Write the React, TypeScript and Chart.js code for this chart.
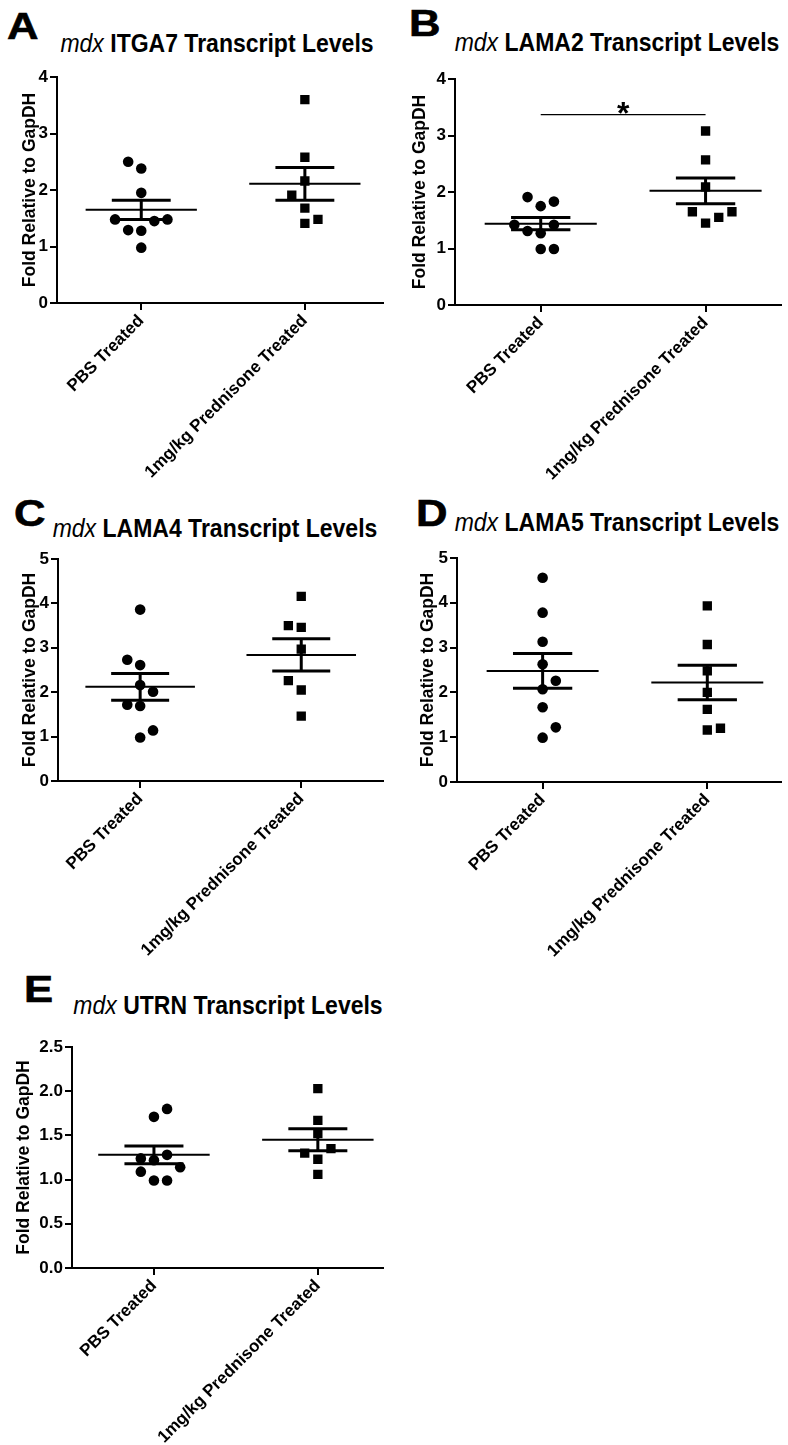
import React, { useEffect, useRef } from "react";
import { Chart, registerables } from "chart.js";

Chart.register(...registerables);

const FONT = "'Liberation Sans', Arial, Helvetica, sans-serif";

// ---------- data ----------
const categories = ["PBS Treated", "1mg/kg Prednisone Treated"];
const panelLetters = ["A", "B", "C", "D", "E"];
const genes = ["ITGA7", "LAMA2", "LAMA4", "LAMA5", "UTRN"];
const yAxisTitle = "Fold Relative to GapDH";
const yMaxes = [4, 4, 5, 5, 2.5];
const ySteps = [1, 1, 1, 1, 0.5];

// A: ITGA7
const pbsA = [2.5, 2.38, 1.95, 1.48, 1.45, 1.48, 1.29, 1.28, 0.98];
const pbsJitterA = [-1, 0, 0, -2, 1, 2, -1, 0, 0];
const predA = [3.6, 2.58, 2.16, 1.91, 1.68, 1.41, 1.48];
const predJitterA = [0, 0, 0, -1, 0, 0, 1];
const meanA = [1.65, 2.11];
const semA = [0.17, 0.29];

// B: LAMA2
const pbsB = [1.91, 1.75, 1.83, 1.42, 1.31, 1.27, 1.42, 0.99, 0.99];
const pbsJitterB = [-1, 0, 1, -2, -1, 0, 1, 0, 1];
const predB = [3.08, 2.57, 2.09, 1.65, 1.45, 1.55, 1.65];
const predJitterB = [0, 0, 0, -1, 0, 1, 2];
const meanB = [1.44, 2.02];
const semB = [0.11, 0.23];
const sigLevelB = 3.37;
const sigLabelB = "*";

// C: LAMA4
const pbsC = [3.86, 2.73, 2.61, 2.16, 2.01, 1.72, 1.69, 1.14, 0.98];
const pbsJitterC = [0, -1, 0, 0, 1, -1, 0, 1, 0];
const predC = [4.16, 3.5, 3.46, 2.97, 2.26, 2.05, 1.46];
const predJitterC = [0, -1, 0, 0, -1, 0, 0];
const meanC = [2.12, 2.84];
const semC = [0.3, 0.365];

// D: LAMA5
const pbsD = [4.56, 3.78, 3.13, 2.63, 2.26, 2.07, 1.67, 1.22, 0.99];
const pbsJitterD = [0, 0, 0, 0, 1, 0, 0, 1, 0];
const predD = [3.93, 3.07, 2.48, 2.0, 1.62, 1.16, 1.2];
const predJitterD = [0, 0, 0, 0, 0, 0, 1];
const meanD = [2.48, 2.22];
const semD = [0.39, 0.385];

// E: UTRN
const pbsE = [1.8, 1.71, 1.24, 1.22, 1.28, 1.14, 1.09, 0.99, 0.99];
const pbsJitterE = [1, 0, -1, 0, 1, 2, -1, 0, 1];
const predE = [2.03, 1.67, 1.52, 1.3, 1.35, 1.23, 1.06];
const predJitterE = [0, 0, 0, -1, 1, 0, 0];
const meanE = [1.28, 1.45];
const semE = [0.1, 0.125];

const pbsAll = [pbsA, pbsB, pbsC, pbsD, pbsE];
const pbsJitAll = [pbsJitterA, pbsJitterB, pbsJitterC, pbsJitterD, pbsJitterE];
const predAll = [predA, predB, predC, predD, predE];
const predJitAll = [predJitterA, predJitterB, predJitterC, predJitterD, predJitterE];
const meanAll = [meanA, meanB, meanC, meanD, meanE];
const semAll = [semA, semB, semC, semD, semE];

// ---------- layout (positions / sizes) ----------
type Layout = {
  left: number; top: number; width: number; height: number;
  padTop: number; yWidth: number; xHeight: number;
  xMin: number; xMax: number; titlePad: number;
  letterLeft: number; letterTop: number;
  titleCenter: number; titleTop: number;
};

const layouts: Layout[] = [
  { left: 0, top: 60, width: 390, height: 420, padTop: 17, yWidth: 57, xHeight: 177, xMin: 0.485, xMax: 2.48, titlePad: 20, letterLeft: 7, letterTop: 8, titleCenter: 217, titleTop: 32 },
  { left: 390, top: 60, width: 398, height: 420, padTop: 19, yWidth: 65, xHeight: 175, xMin: 0.48, xMax: 2.46, titlePad: 20, letterLeft: 409, letterTop: 5, titleCenter: 617, titleTop: 31 },
  { left: 0, top: 540, width: 390, height: 420, padTop: 19, yWidth: 58, xHeight: 179, xMin: 0.49, xMax: 2.51, titlePad: 20, letterLeft: 14, letterTop: 495, titleCenter: 215, titleTop: 517 },
  { left: 390, top: 540, width: 398, height: 420, padTop: 18, yWidth: 67, xHeight: 178, xMin: 0.48, xMax: 2.45, titlePad: 28, letterLeft: 416, letterTop: 495, titleCenter: 617, titleTop: 511 },
  { left: 0, top: 1030, width: 390, height: 415, padTop: 17, yWidth: 72, xHeight: 177, xMin: 0.5, xMax: 2.4, titlePad: 14, letterLeft: 24, letterTop: 971, titleCenter: 228, titleTop: 994 },
];

const JIT = 0.08;
const MEAN_HALF = 0.34;
const CAP_HALF = 0.18;

function groupLines(cx: number, mean: number, sem: number) {
  const base = { type: "line" as const, pointRadius: 0, borderColor: "#000", showLine: true, fill: false, tension: 0 };
  return [
    { ...base, borderWidth: 2, data: [{ x: cx - MEAN_HALF, y: mean }, { x: cx + MEAN_HALF, y: mean }] },
    { ...base, borderWidth: 3, data: [{ x: cx - CAP_HALF, y: mean + sem }, { x: cx + CAP_HALF, y: mean + sem }] },
    { ...base, borderWidth: 3, data: [{ x: cx - CAP_HALF, y: mean - sem }, { x: cx + CAP_HALF, y: mean - sem }] },
    { ...base, borderWidth: 3, data: [{ x: cx, y: mean - sem }, { x: cx, y: mean + sem }] },
  ];
}

const sigPlugin = {
  id: "sigStar",
  afterDatasetsDraw(chart: any, _args: any, opts: any) {
    if (!opts || !opts.show) return;
    const { ctx, scales } = chart;
    const x = scales.x.getPixelForValue((opts.from + opts.to) / 2);
    const y = scales.y.getPixelForValue(opts.level);
    ctx.save();
    ctx.fillStyle = "#000";
    ctx.font = `bold 32px ${FONT}`;
    ctx.textAlign = "center";
    ctx.textBaseline = "alphabetic";
    ctx.fillText(opts.label, x, y + 9);
    ctx.restore();
  },
};

function Panel({ idx }: { idx: number }) {
  const ref = useRef<HTMLCanvasElement | null>(null);
  const L = layouts[idx];

  useEffect(() => {
    if (!ref.current) return;
    const pbs = pbsAll[idx];
    const pred = predAll[idx];
    const datasets: any[] = [];
    datasets.push(...groupLines(1, meanAll[idx][0], semAll[idx][0]));
    datasets.push(...groupLines(2, meanAll[idx][1], semAll[idx][1]));
    datasets.push({
      type: "scatter",
      data: pbs.map((v, i) => ({ x: 1 + pbsJitAll[idx][i] * JIT, y: v })),
      pointStyle: "circle",
      pointRadius: 5.3,
      pointBackgroundColor: "#000",
      pointBorderWidth: 0,
      borderColor: "#000",
    });
    datasets.push({
      type: "scatter",
      data: pred.map((v, i) => ({ x: 2 + predJitAll[idx][i] * JIT, y: v })),
      pointStyle: "rect",
      pointRadius: 6.6,
      pointBackgroundColor: "#000",
      pointBorderWidth: 0,
      borderColor: "#000",
    });
    const hasSig = idx === 1;
    if (hasSig) {
      datasets.push({
        type: "line",
        data: [{ x: 1, y: sigLevelB }, { x: 2, y: sigLevelB }],
        borderColor: "#000",
        borderWidth: 1.2,
        pointRadius: 0,
        showLine: true,
      });
    }
    const decimals = ySteps[idx] < 1 ? 1 : 0;
    const chart = new Chart(ref.current, {
      type: "scatter",
      data: { datasets },
      plugins: [sigPlugin],
      options: {
        animation: false,
        responsive: false,
        events: [],
        layout: { padding: { top: L.padTop, left: 0, right: 0, bottom: 0 } },
        plugins: {
          legend: { display: false },
          tooltip: { enabled: false },
          sigStar: { show: hasSig, from: 1, to: 2, level: sigLevelB, label: sigLabelB },
        } as any,
        scales: {
          x: {
            type: "linear",
            min: L.xMin,
            max: L.xMax,
            afterBuildTicks: (s: any) => { s.ticks = [{ value: 1 }, { value: 2 }]; },
            afterFit: (s: any) => { s.height = L.xHeight; },
            ticks: {
              callback: (v: any) => categories[Math.round(Number(v)) - 1] ?? "",
              color: "#000",
              font: { family: FONT, size: 17, weight: "bold" },
              minRotation: 45,
              maxRotation: 45,
              autoSkip: false,
              padding: 1,
            },
            grid: { display: true, drawOnChartArea: false, drawTicks: true, tickLength: 7, color: "#000", lineWidth: 2 },
            border: { display: true, color: "#000", width: 2 },
          },
          y: {
            type: "linear",
            min: 0,
            max: yMaxes[idx],
            afterFit: (s: any) => { s.width = L.yWidth; },
            ticks: {
              stepSize: ySteps[idx],
              callback: (v: any) => Number(v).toFixed(decimals),
              color: "#000",
              font: { family: FONT, size: 17, weight: "bold" },
              padding: 2,
            },
            title: {
              display: true,
              text: yAxisTitle,
              color: "#000",
              font: { family: FONT, size: 17.5, weight: "bold" },
              padding: { top: L.titlePad, bottom: 0 },
            },
            grid: { display: true, drawOnChartArea: false, drawTicks: true, tickLength: 7, color: "#000", lineWidth: 2 },
            border: { display: true, color: "#000", width: 2 },
          },
        },
      } as any,
    });
    return () => chart.destroy();
  }, [idx]);

  return (
    <>
      <div
        style={{
          position: "absolute",
          left: L.letterLeft,
          top: L.letterTop,
          font: `bold 37px ${FONT}`,
          lineHeight: "37px",
          color: "#000",
          transform: "scaleX(1.18)",
          transformOrigin: "left top",
          WebkitTextStroke: "0.6px #000",
        }}
      >
        {panelLetters[idx]}
      </div>
      <div
        style={{
          position: "absolute",
          left: L.titleCenter - 200,
          top: L.titleTop,
          width: 400,
          textAlign: "center",
          font: `bold 23px ${FONT}`,
          lineHeight: "23px",
          color: "#000",
          whiteSpace: "nowrap",
          transform: "scaleY(1.1)",
        }}
      >
        <i style={{ fontWeight: "normal" }}>mdx</i> {genes[idx]} Transcript Levels
      </div>
      <canvas
        ref={ref}
        width={L.width}
        height={L.height}
        style={{ position: "absolute", left: L.left, top: L.top, width: L.width, height: L.height }}
      />
    </>
  );
}

export default function App() {
  return (
    <div
      style={{
        position: "absolute",
        left: 0,
        top: 0,
        width: 788,
        height: 1445,
        background: "#fff",
        overflow: "hidden",
      }}
    >
      {[0, 1, 2, 3, 4].map((i) => (
        <Panel key={i} idx={i} />
      ))}
    </div>
  );
}
